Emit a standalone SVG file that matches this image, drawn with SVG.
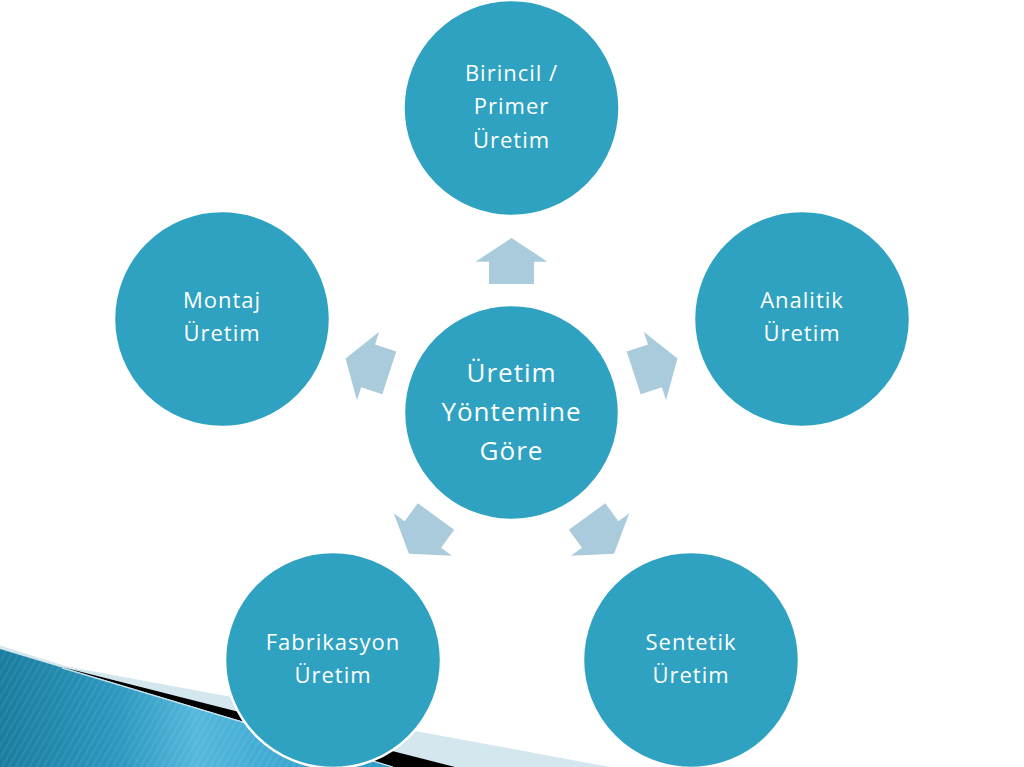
<svg xmlns="http://www.w3.org/2000/svg" width="1024" height="767" viewBox="0 0 1024 767">
<defs>
<linearGradient id="blueG" x1="0" y1="0" x2="1" y2="0">
<stop offset="0" stop-color="#1a7d9f"/>
<stop offset="0.3" stop-color="#2c97bf"/>
<stop offset="0.5" stop-color="#55b8dc"/>
<stop offset="0.75" stop-color="#3aa6cf"/>
<stop offset="1" stop-color="#2b98c0"/>
</linearGradient>
<pattern id="stripes" width="6" height="6" patternUnits="userSpaceOnUse" patternTransform="rotate(30)">
<rect x="0" y="0" width="2" height="6" fill="#ffffff" opacity="0.07"/>
</pattern>
<path id="arr" d="M0,-174.5 L36,-150.8 L22.5,-150.8 L22.5,-128.5 L-22.5,-128.5 L-22.5,-150.8 L-36,-150.8 Z"/>
</defs>
<style>
.node circle{fill:#2ea2c0;stroke:#ffffff;stroke-width:2.5}
.lbl{font-family:"Open Sans","Liberation Sans",sans-serif;fill:#ffffff;text-anchor:middle;font-size:22px;letter-spacing:1px;font-weight:500}
.big{font-size:26px;letter-spacing:1px;font-weight:400}
.arrow{fill:#a9cbdc}
</style>
<rect width="1024" height="767" fill="#ffffff"/>
<g id="decoration">
<polygon points="0,645.5 67,666.5 610,767 0,767" fill="#d4e7ef"/>
<polygon points="62,667 455,767 393,767" fill="#000000"/>
<polygon points="0,649 393,767 0,767" fill="url(#blueG)"/>
<polygon points="0,649 393,767 0,767" fill="url(#stripes)"/>
<line x1="62" y1="668" x2="393" y2="767" stroke="#cfe6ef" stroke-width="1.2"/>
</g>
<g id="connectors">
<use href="#arr" class="arrow" transform="translate(511.5,412.5) rotate(0)"/>
<use href="#arr" class="arrow" transform="translate(511.5,412.5) rotate(72)"/>
<use href="#arr" class="arrow" transform="translate(511.5,412.5) rotate(144)"/>
<use href="#arr" class="arrow" transform="translate(511.5,412.5) rotate(216)"/>
<use href="#arr" class="arrow" transform="translate(511.5,412.5) rotate(288)"/>
</g>
<g id="center" class="node">
<circle cx="511.5" cy="412.5" r="107.5"/>
<text class="lbl big" x="511.5" y="382">Üretim</text>
<text class="lbl big" x="511.5" y="421">Yöntemine</text>
<text class="lbl big" x="511.5" y="460">Göre</text>
</g>
<g id="primer" class="node">
<circle cx="511.5" cy="108" r="108"/>
<text class="lbl" x="511.5" y="81">Birincil /</text>
<text class="lbl" x="511.5" y="114">Primer</text>
<text class="lbl" x="511.5" y="148">Üretim</text>
</g>
<g id="analitik" class="node">
<circle cx="802" cy="319" r="108"/>
<text class="lbl" x="802" y="308">Analitik</text>
<text class="lbl" x="802" y="341">Üretim</text>
</g>
<g id="sentetik" class="node">
<circle cx="691" cy="660" r="108"/>
<text class="lbl" x="691" y="650">Sentetik</text>
<text class="lbl" x="691" y="683">Üretim</text>
</g>
<g id="fabrikasyon" class="node">
<circle cx="333" cy="660" r="108"/>
<text class="lbl" x="333" y="650">Fabrikasyon</text>
<text class="lbl" x="333" y="683">Üretim</text>
</g>
<g id="montaj" class="node">
<circle cx="222" cy="319" r="108"/>
<text class="lbl" x="222" y="308">Montaj</text>
<text class="lbl" x="222" y="341">Üretim</text>
</g>
</svg>
